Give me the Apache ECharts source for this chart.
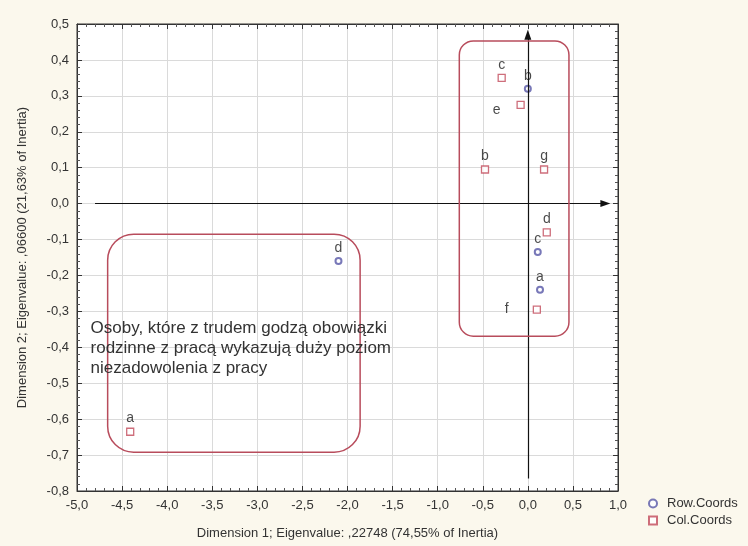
<!DOCTYPE html>
<html>
<head>
	<meta charset="UTF-8">
	<title>Correspondence analysis</title>
	<script src="https://cdn.jsdelivr.net/npm/echarts@6/dist/echarts.min.js"></script>
	<style>
		html, body { margin: 0; padding: 0; background: #fbf8ed; }
		#chart { width: 748px; height: 546px; }
	</style>
</head>
<body>
	<div id="chart"></div>
	<script>
		// Row.Coords (blue circles)
		var rowNames = ['b', 'c', 'a', 'd'];
		var rowX = [0.0, 0.11, 0.135, -2.1];
		var rowY = [0.32, -0.135, -0.24, -0.16];

		// Col.Coords (red squares)
		var colNames = ['c', 'e', 'b', 'g', 'd', 'f', 'a'];
		var colX = [-0.29, -0.08, -0.475, 0.18, 0.21, 0.10, -4.41];
		var colY = [0.35, 0.275, 0.095, 0.095, -0.08, -0.295, -0.635];

		var xTitle = 'Dimension 1; Eigenvalue: ,22748 (74,55% of Inertia)';
		var yTitle = 'Dimension 2; Eigenvalue: ,06600 (21,63% of Inertia)';
		var note = 'Osoby, które z trudem godzą obowiązki\nrodzinne z pracą wykazują duży poziom\nniezadowolenia z pracy';

		var font = 'Liberation Sans';
		var red = '#c24a5a';
		var blue = '#5656a6';

		function fmt(v) {
			if (Math.abs(v) < 1e-9) v = 0;
			return v.toFixed(1).replace('.', ',');
		}

		// labels drawn to the left instead of above
		var leftLabel = { e: [16, 5], f: [24, 0] };

		function points(names, xs, ys) {
			return names.map(function (n, i) {
				var item = { name: n, value: [xs[i], ys[i]] };
				if (leftLabel[n] && names === colNames) {
					item.label = { position: 'left', distance: leftLabel[n][0], offset: [0, leftLabel[n][1]] };
				}
				return item;
			});
		}

		function axisCommon(extra) {
			var a = {
				type: 'value',
				axisLine: { show: true, onZero: false, lineStyle: { color: '#333' } },
				axisTick: { show: true, inside: true, length: 5, lineStyle: { color: '#333' } },
				minorTick: { show: true, splitNumber: 5, length: 3, lineStyle: { color: '#555' } },
				splitLine: { show: true, lineStyle: { color: '#dadada' } },
				axisLabel: { color: '#333', fontSize: 13, fontFamily: font, formatter: fmt }
			};
			return Object.assign(a, extra);
		}

		var chart = echarts.init(document.getElementById('chart'));
		var labelStyle = { show: true, position: 'top', distance: 2, color: '#1a1a1a', fontSize: 14, fontFamily: font, formatter: '{b}' };

		chart.setOption({
			backgroundColor: '#fbf8ed',
			animation: false,
			grid: { left: 77, right: 130, top: 24, bottom: 55, show: true, backgroundColor: '#ffffff', borderColor: '#333' },
			xAxis: [
				axisCommon({ min: -5, max: 1, interval: 0.5, position: 'bottom',
					name: xTitle, nameLocation: 'middle', nameGap: 36,
					nameTextStyle: { color: '#333', fontSize: 13, fontFamily: font } }),
				axisCommon({ min: -5, max: 1, interval: 0.5, position: 'top', axisLabel: { show: false }, splitLine: { show: false } })
			],
			yAxis: [
				axisCommon({ min: -0.8, max: 0.5, interval: 0.1, position: 'left',
					name: yTitle, nameLocation: 'middle', nameGap: 48,
					nameTextStyle: { color: '#333', fontSize: 13, fontFamily: font } }),
				axisCommon({ min: -0.8, max: 0.5, interval: 0.1, position: 'right', axisLabel: { show: false }, splitLine: { show: false } })
			],
			legend: {
				orient: 'vertical', left: 643, top: 492, itemWidth: 8, itemHeight: 8, itemGap: 4,
				textStyle: { color: '#333', fontSize: 13, fontFamily: font, padding: [0, 0, 0, 5] },
				data: ['Row.Coords', 'Col.Coords']
			},
			series: [
				{
					name: 'Row.Coords', type: 'scatter', symbol: 'emptyCircle', symbolSize: 6,
					itemStyle: { color: blue, borderColor: blue, borderWidth: 1.2 },
					label: labelStyle,
					data: points(rowNames, rowX, rowY),
					markLine: {
						silent: true, symbol: ['none', 'triangle'], symbolSize: [7, 10],
						lineStyle: { color: '#111', width: 1.2, type: 'solid' },
						label: { show: false },
						data: [
							[{ coord: [-4.8, 0] }, { coord: [0.86, 0] }],
							[{ coord: [0, -0.765] }, { coord: [0, 0.47] }]
						]
					}
				},
				{
					name: 'Col.Coords', type: 'scatter', symbol: 'rect', symbolSize: 7,
					itemStyle: { color: '#ffffff', borderColor: red, borderWidth: 1.3 },
					label: labelStyle,
					data: points(colNames, colX, colY)
				}
			]
		});

		// rounded boxes and the note, placed in data coordinates
		function px(x, y) { return chart.convertToPixel({ gridIndex: 0 }, [x, y]); }
		function box(x0, y0, x1, y1, r) {
			var a = px(x0, y0), b = px(x1, y1);
			return {
				type: 'rect', z: 10,
				shape: { x: a[0], y: a[1], width: b[0] - a[0], height: b[1] - a[1], r: r },
				style: { fill: null, stroke: '#b84c5c', lineWidth: 1.5 }
			};
		}
		var tp = px(-4.85, -0.32);
		chart.setOption({
			graphic: [
				box(-0.76, 0.453, 0.456, -0.369, 14),
				box(-4.66, -0.085, -1.86, -0.692, 26),
				{
					type: 'text', z: 11, left: tp[0], top: tp[1],
					style: { text: note, fill: '#333', fontSize: 17, lineHeight: 20, fontFamily: font }
				}
			]
		});
	</script>
</body>
</html>
